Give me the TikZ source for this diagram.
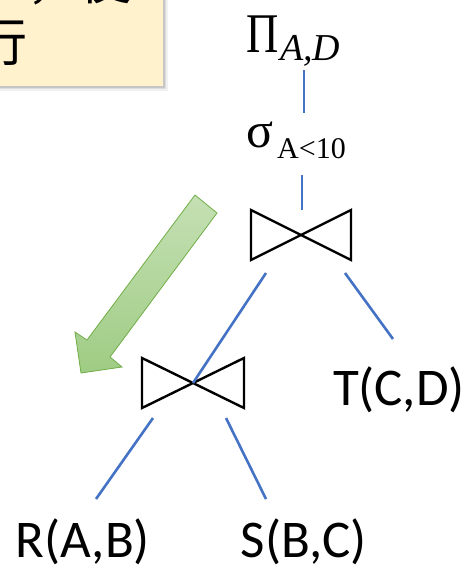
\documentclass[tikz,border=0pt]{standalone}
\usepackage{fontspec}
\setmainfont{Liberation Serif}
\newfontfamily\labfont{Carlito}
\newfontfamily\cjkfont{Noto Sans CJK SC}
\definecolor{edgeblue}{HTML}{4472C4}
\definecolor{notefill}{HTML}{FFF2CC}
\definecolor{arrowtop}{HTML}{C5E0B4}
\definecolor{arrowbot}{HTML}{9FCC84}
\definecolor{arrowline}{HTML}{70AD47}
\tikzset{
  edge/.style={draw=edgeblue, line width=2.6pt},
  bowtie/.style={draw=black, line width=2.4pt, line join=miter},
  rel/.style={font=\fontsize{53}{53}\selectfont\labfont, inner sep=0pt, anchor=base},
  opbig/.style={font=\fontsize{56}{56}\selectfont, inner sep=0pt, anchor=base west},
  subit/.style={font=\fontsize{38}{38}\selectfont\itshape, inner sep=0pt, anchor=base west},
  opsig/.style={font=\fontsize{50}{50}\selectfont, inner sep=0pt, anchor=base west},
  subrm/.style={font=\fontsize{30}{30}\selectfont, inner sep=0pt, anchor=base west},
  cjk/.style={font=\fontsize{52}{52}\selectfont\cjkfont, inner sep=0pt, anchor=base west}
}
\begin{document}
\begin{tikzpicture}[x=1pt,y=-1pt]
\useasboundingbox (0,0) rectangle (467,568);
% note box (cut by the picture border)
\begin{scope}
  \clip (0,0) rectangle (467,568);
  \fill[black, opacity=0.06] (-10,-10) rectangle (168,91);
  \fill[black, opacity=0.08] (-10,-10) rectangle (166,89);
  \fill[black, opacity=0.10] (-10,-10) rectangle (164.5,87.5);
  \fill[notefill] (-10,-10) rectangle (163,86);
  \node[cjk] (note1) at (27,-1) {，使};
  \node[cjk] (note2) at (-25,61) {行};
\end{scope}
% green arrow
\shade[top color=arrowtop, bottom color=arrowbot, draw=arrowline, line width=0.8pt, line join=miter]
  (195,195) -- (217,213) -- (110,357) -- (122,367) -- (81,373) -- (75,332) -- (87,340) -- cycle;
% operators
\node[opbig] (Pi) at (246,52) {\scalebox{0.8}[1]{Π}};
\node[subit] (PiSub) at (280,60) {A,D};
\node[opsig] (Sigma) at (246,147) {σ};
\node[subrm] (SigmaSub) at (277,158) {A<10};
% joins
\coordinate (J1) at (301,235);
\coordinate (J2) at (193,383);
\draw[bowtie] (J1) +(-50,-25) -- +(-50,25) -- +(50,-25) -- +(50,25) -- cycle;
\draw[bowtie] (J2) +(-51,-25) -- +(-51,25) -- +(51,-25) -- +(51,25) -- cycle;
% relations
\node[rel] (R) at (83,557) {R(A,B)};
\node[rel] (S) at (304,557) {S(B,C)};
\node[rel] (T) at (399,405) {T(C,D)};
% connector end points
\coordinate (e1a) at (304,70);  \coordinate (e1b) at (304,113);
\coordinate (e2a) at (302,175); \coordinate (e2b) at (302,210);
\coordinate (e3a) at (266,273);
\coordinate (e4a) at (345,273); \coordinate (e4b) at (393,339);
\coordinate (e5a) at (153,418); \coordinate (e5b) at (96,499);
\coordinate (e6a) at (226,418); \coordinate (e6b) at (266,499);
\draw[edge] (e1a) -- (e1b);
\draw[edge] (e2a) -- (e2b);
\draw[edge] (e3a) -- (J2);
\draw[edge] (e4a) -- (e4b);
\draw[edge] (e5a) -- (e5b);
\draw[edge] (e6a) -- (e6b);
\end{tikzpicture}
\end{document}
